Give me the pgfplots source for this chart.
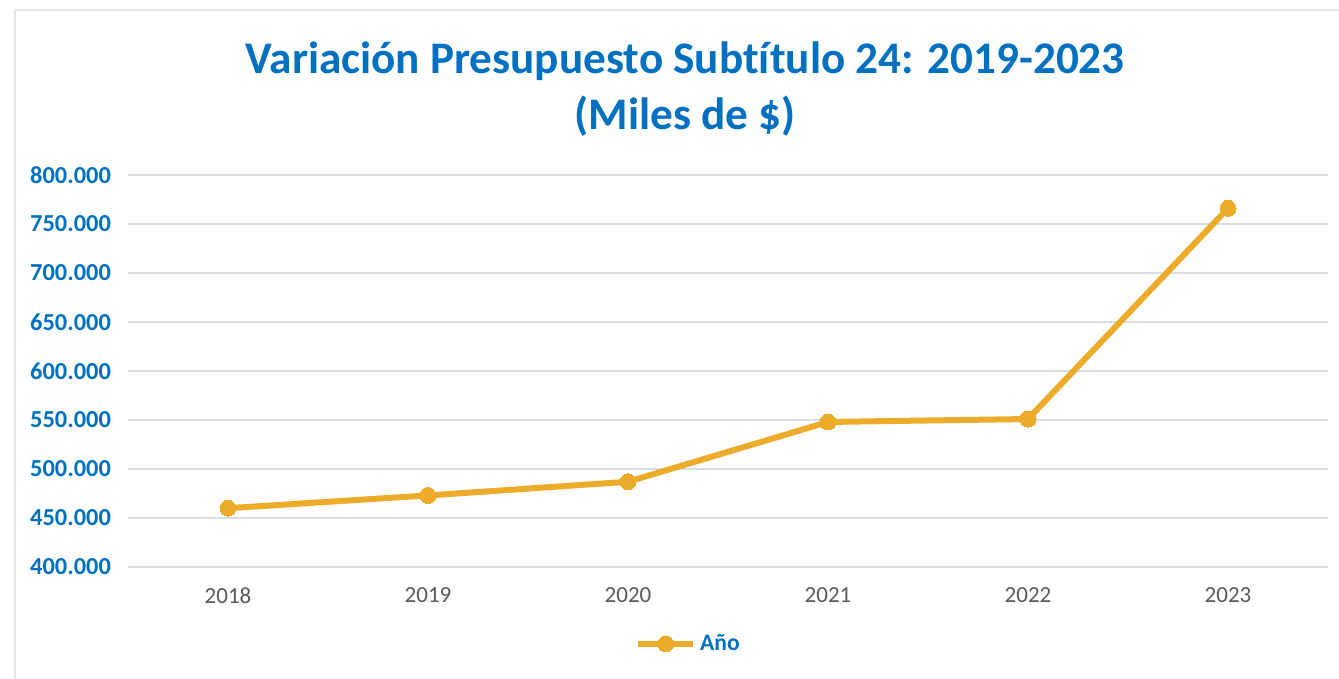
\documentclass[border=0pt]{standalone}
\usepackage{pgfplots}
\pgfplotsset{compat=1.18}
\usepackage{fontspec}
\setmainfont{Carlito}[Ligatures=NoCommon]
\definecolor{ttlblue}{RGB}{0,112,192}
\definecolor{linegold}{RGB}{236,172,42}
\definecolor{gridc}{RGB}{214,221,227}
\definecolor{xlab}{RGB}{89,89,89}
\begin{document}
\begin{tikzpicture}
\path[use as bounding box] (-64pt,-56pt) rectangle (605.5pt,283.5pt);
\draw[gray!20,line width=0.6pt] (-56.5pt,-56pt) -- (-56.5pt,278.5pt) -- (605.5pt,278.5pt);
\begin{axis}[
  at={(0pt,0pt)}, anchor=south west,
  scale only axis, width=600pt, height=196pt,
  xmin=-0.5, xmax=5.5, ymin=400000, ymax=800000,
  xtick={0,...,5}, xticklabels={2018,2019,2020,2021,2022,2023},
  ytick={400000,450000,...,800000},
  scaled y ticks=false,
  axis line style={draw=none},
  major tick length=0pt,
  ymajorgrids, grid style={gridc, line width=0.6pt},
  /pgf/number format/assume math mode=true,
  yticklabel={\pgfmathprintnumber[fixed,precision=0,1000 sep={.}]{\tick}},
  yticklabel style={font=\fontsize{12.2pt}{14pt}\selectfont\bfseries, text=ttlblue},
  xticklabel style={font=\fontsize{11.5pt}{14pt}\selectfont, text=xlab},
  yticklabel shift=5pt, xticklabel shift=7pt,
  legend style={at={(0.468,-0.196)}, anchor=center, draw=none, fill=none,
    font=\fontsize{11.8pt}{14pt}\selectfont\bfseries, text=ttlblue},
  legend image code/.code={\draw[mark repeat=2,mark phase=2,#1] plot coordinates {(0cm,0cm) (0.48cm,0cm) (0.96cm,0cm)};},
]
\addplot[linegold, line width=3pt, mark=*, mark size=4pt, mark options={fill=linegold, draw=linegold, line width=0pt}]
  coordinates {(0,460000) (1,473000) (2,487000) (3,548000) (4,551000) (5,766000)};
\addlegendentry{Año}
\end{axis}
\node[text=ttlblue, font=\fontsize{22.6pt}{28pt}\selectfont\bfseries, align=center] at (278.5pt,253pt) {Variación Presupuesto Subtítulo 24: 2019-2023};
\node[text=ttlblue, font=\fontsize{22.6pt}{28pt}\selectfont\bfseries, align=center] at (278.5pt,225.5pt) {(Miles de \$)};
\end{tikzpicture}
\end{document}
